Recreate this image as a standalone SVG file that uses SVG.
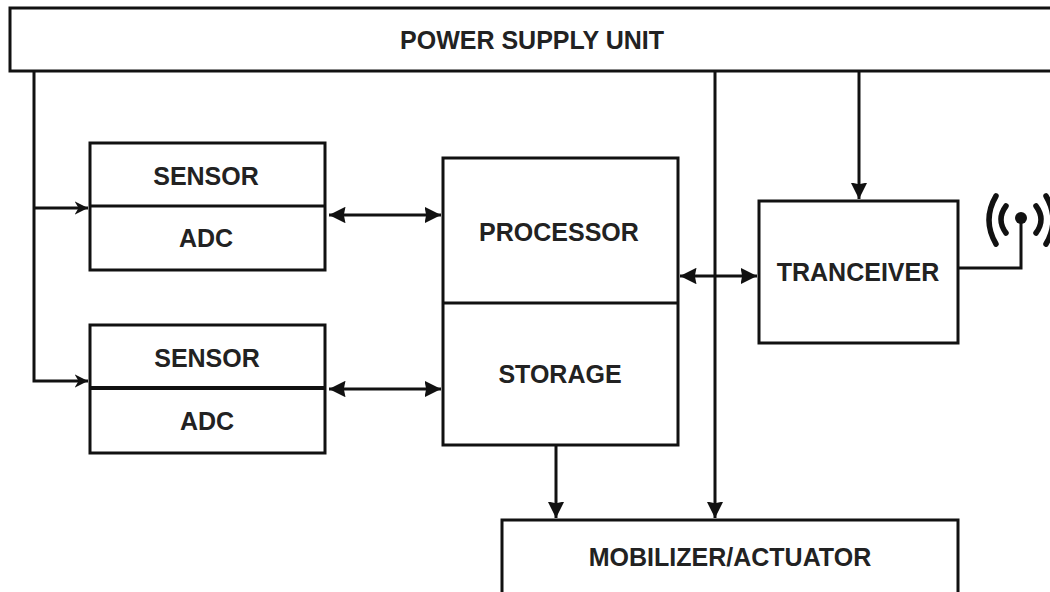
<svg xmlns="http://www.w3.org/2000/svg" width="1050" height="592" viewBox="0 0 1050 592">
<defs>
<style>
.box{fill:#fff;stroke:#111;stroke-width:3}
.ln{fill:none;stroke:#111;stroke-width:3}
.t{font-family:"Liberation Sans",Arial,sans-serif;font-weight:bold;font-size:25px;fill:#222;text-anchor:middle}
.arc{fill:none;stroke:#111;stroke-width:5.5;stroke-linecap:round}
</style>
<marker id="ah" viewBox="0 0 10 10" refX="10" refY="5" markerWidth="5.5" markerHeight="5.5" orient="auto-start-reverse" markerUnits="strokeWidth">
<path d="M0,0 L10,5 L0,10 L1,5 z" fill="#111"/>
</marker>
<marker id="as" viewBox="0 0 10 10" refX="10" refY="5" markerWidth="4.5" markerHeight="4.5" orient="auto-start-reverse" markerUnits="strokeWidth">
<path d="M0,0 L10,5 L0,10 L3,5 z" fill="#111"/>
</marker>
</defs>
<rect width="1050" height="592" fill="#fff"/>

<g id="connectors">
<path class="ln" d="M34,71 V381 H88" marker-end="url(#as)"/>
<path class="ln" d="M34,208 H88" marker-end="url(#as)"/>
<path class="ln" d="M329,215 H441" marker-start="url(#ah)" marker-end="url(#ah)"/>
<path class="ln" d="M329,389 H441" marker-start="url(#ah)" marker-end="url(#ah)"/>
<path class="ln" d="M680,276 H757" marker-start="url(#ah)" marker-end="url(#ah)"/>
<path class="ln" d="M715,71 V518" marker-end="url(#ah)"/>
<path class="ln" d="M859,71 V199" marker-end="url(#ah)"/>
<path class="ln" d="M556,445 V518" marker-end="url(#ah)"/>
<path class="ln" d="M958,268 H1021 V218"/>
</g>

<g id="power-supply">
<rect class="box" x="10" y="8" width="1050" height="63"/>
<text class="t" x="532" y="49">POWER SUPPLY UNIT</text>
</g>

<g id="sensor-adc-1">
<rect class="box" x="90" y="143" width="235" height="127"/>
<line class="ln" x1="90" y1="206" x2="325" y2="206"/>
<text class="t" x="206" y="185">SENSOR</text>
<text class="t" x="206" y="247">ADC</text>
</g>

<g id="sensor-adc-2">
<rect class="box" x="90" y="325" width="235" height="128"/>
<line class="ln" x1="90" y1="388" x2="325" y2="388" style="stroke-width:4"/>
<text class="t" x="207" y="367">SENSOR</text>
<text class="t" x="207" y="430">ADC</text>
</g>

<g id="processor-storage">
<rect class="box" x="443" y="158" width="235" height="287"/>
<line class="ln" x1="443" y1="303" x2="678" y2="303"/>
<text class="t" x="559" y="241">PROCESSOR</text>
<text class="t" x="560" y="383">STORAGE</text>
</g>

<g id="transceiver">
<rect class="box" x="759" y="201" width="199" height="142"/>
<text class="t" x="858" y="281">TRANCEIVER</text>
</g>

<g id="antenna">
<circle cx="1021" cy="218" r="6" fill="#111"/>
<path class="arc" d="M1006,206 Q996,219.5 1006,233"/>
<path class="arc" d="M996,196 Q982,220 996,244"/>
<path class="arc" d="M1036,206 Q1046,219.5 1036,233"/>
<path class="arc" d="M1046,196 Q1060,220 1046,244"/>
</g>

<g id="mobilizer">
<rect class="box" x="502" y="520" width="456" height="80"/>
<text class="t" x="730" y="566">MOBILIZER/ACTUATOR</text>
</g>
</svg>
